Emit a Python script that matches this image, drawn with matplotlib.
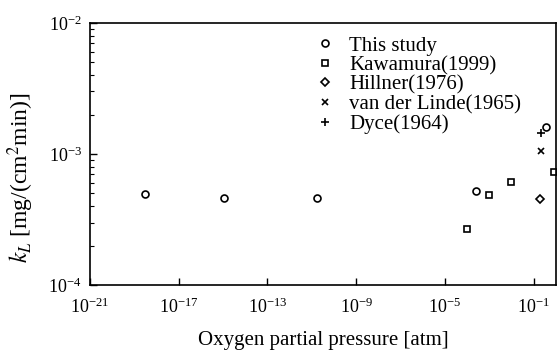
import matplotlib

matplotlib.use("Agg")
import matplotlib.pyplot as plt
from matplotlib.ticker import LogLocator, FixedLocator, NullLocator

plt.rcParams["font.family"] = ["Liberation Serif", "DejaVu Serif"]
plt.rcParams["mathtext.fontset"] = "stix"

# k_L vs oxygen partial pressure, one pair of lists per source
this_po2 = [10**-18.5, 10**-14.96, 10**-10.77, 10**-3.59, 10**-0.45]
this_kl = [4.98e-4, 4.63e-4, 4.63e-4, 5.2e-4, 1.6e-3]

kawamura_po2 = [10**-4.01, 10**-3.0, 10**-2.02, 10**-0.08]
kawamura_kl = [2.7e-4, 4.9e-4, 6.15e-4, 7.3e-4]

hillner_po2 = [10**-0.71]
hillner_kl = [4.5e-4]

linde_po2 = [10**-0.65]
linde_kl = [1.06e-3]

dyce_po2 = [10**-0.68]
dyce_kl = [1.44e-3]

xticks = [1e-21, 1e-17, 1e-13, 1e-9, 1e-5, 1e-1]

fig = plt.figure(figsize=(5.57, 3.52), dpi=100)
ax = fig.add_axes([0.1616, 0.19, 0.8364, 0.745])

mk = dict(linestyle="none", color="black", markerfacecolor="none",
          markeredgewidth=1.2, markersize=5)
ax.plot(this_po2, this_kl, marker="o", label="This study", **mk)
ax.plot(kawamura_po2, kawamura_kl, marker="s", label="Kawamura(1999)", **mk)
ax.plot(hillner_po2, hillner_kl, marker="D", label="Hillner(1976)",
        **{**mk, "markersize": 4})
ax.plot(linde_po2, linde_kl, marker="x", label="van der Linde(1965)", **mk)
ax.plot(dyce_po2, dyce_kl, marker="+", label="Dyce(1964)",
        **{**mk, "markersize": 6})

ax.set_xscale("log")
ax.set_yscale("log")
ax.set_xlim(1e-21, 1)
ax.set_ylim(1e-4, 1e-2)

ax.xaxis.set_major_locator(FixedLocator(xticks))
ax.xaxis.set_minor_locator(NullLocator())
ax.yaxis.set_major_locator(LogLocator(base=10))
ax.yaxis.set_minor_locator(LogLocator(base=10, subs=range(2, 10)))
ax.tick_params(which="both", direction="in", labelsize=13, top=False, right=False)
ax.tick_params(which="major", length=5, width=1)
ax.tick_params(which="minor", length=3, width=0.8)
ax.tick_params(axis="x", pad=9)
ax.tick_params(axis="y", pad=6)
for s in ax.spines.values():
    s.set_linewidth(1.2)

ax.set_xlabel("Oxygen partial pressure [atm]", fontsize=15, labelpad=10)
ax.set_ylabel(r"$k_L$ [mg/(cm$^2$min)]", fontsize=17, labelpad=3)
ax.yaxis.set_label_coords(-0.115, 0.41)

ax.legend(loc="upper left", bbox_to_anchor=(0.482, 0.95), frameon=False,
          fontsize=15, handlelength=1.0, handletextpad=0.65,
          labelspacing=0.0, borderaxespad=0, borderpad=0)

fig.savefig("out.png", dpi=100)
